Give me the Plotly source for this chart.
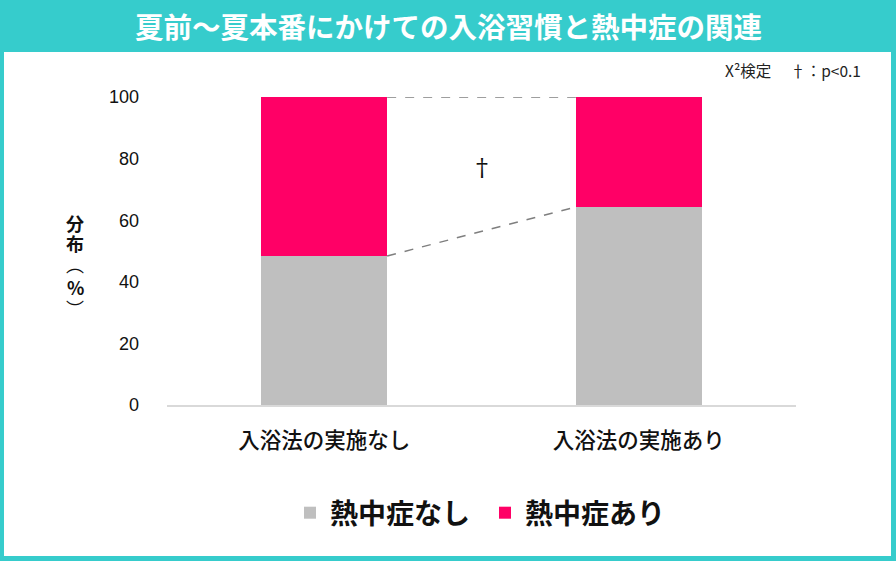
import plotly.graph_objects as go

# --- data -------------------------------------------------------------
categories = ["入浴法の実施なし", "入浴法の実施あり"]
series_names = ["熱中症なし", "熱中症あり"]
no_heatstroke = [48.4, 64.3]          # 熱中症なし (%)
with_heatstroke = [51.6, 35.7]        # 熱中症あり (%)
y_ticks = [0, 20, 40, 60, 80, 100]

title_text = "夏前～夏本番にかけての入浴習慣と熱中症の関連"
note_text = "X²検定　 †：p<0.1"
y_title_chars = ["分", "布", "︵", "%", "︶"]

# --- styling ----------------------------------------------------------
TEAL = "#36CCCC"
GRAY = "#BFBFBF"
PINK = "#FF0066"
JP = "Noto Sans CJK JP"
NUM = "Liberation Sans, Arial"

W, H = 896, 561
PL, PR, PT, PB = 167, 796, 97, 405   # plot area in pixels
BAR_W = 0.4


def px_x(p):
    return (p - PL) / (PR - PL)


def px_y(p):
    return (PB - p) / (PB - PT)


x_pos = list(range(len(categories)))

fig = go.Figure()
fig.add_trace(go.Bar(
    x=x_pos, y=no_heatstroke, name=series_names[0], width=BAR_W,
    marker=dict(color=GRAY, line=dict(width=0)),
))
fig.add_trace(go.Bar(
    x=x_pos, y=with_heatstroke, name=series_names[1], width=BAR_W,
    marker=dict(color=PINK, line=dict(width=0)),
))

shapes = [
    # white card inside the teal frame
    dict(type="rect", xref="paper", yref="paper",
         x0=px_x(4), x1=px_x(891), y0=px_y(556), y1=px_y(52),
         fillcolor="white", line=dict(width=0), layer="below"),
]

# series lines joining the stacked segments of the two bars
tops = [a + b for a, b in zip(no_heatstroke, with_heatstroke)]
for level in (no_heatstroke, tops):
    shapes.append(dict(
        type="line", xref="x", yref="y",
        x0=x_pos[0] + BAR_W / 2, y0=level[0],
        x1=x_pos[1] - BAR_W / 2, y1=level[1],
        line=dict(color="#7F7F7F", width=1.5, dash="dash"),
        layer="above",
    ))

annotations = [
    dict(text=f"<b>{title_text}</b>", xref="paper", yref="paper",
         x=px_x(448), y=px_y(26), xanchor="center", yanchor="middle",
         showarrow=False, font=dict(family=JP, size=28.5, color="white")),
    dict(text=note_text, xref="paper", yref="paper",
         x=px_x(863), y=px_y(70), xanchor="right", yanchor="middle",
         showarrow=False, font=dict(family=JP, size=15.5, color="#222222")),
    dict(text="†", xref="x", yref="y", x=0.5, y=77,
         xanchor="center", yanchor="middle", showarrow=False,
         font=dict(family="DejaVu Serif", size=24, color="#111111")),
]

# vertical axis title, one glyph per line (vertical-form brackets kept regular weight)
y_title_pos = [223, 243, 264, 287, 308]
for ch, py in zip(y_title_chars, y_title_pos):
    annotations.append(dict(
        text=ch if ch in "︵︶" else f"<b>{ch}</b>",
        xref="paper", yref="paper", x=px_x(75), y=px_y(py),
        xanchor="center", yanchor="middle", showarrow=False,
        font=dict(family=JP, size=18, color="#111111"),
    ))

fig.update_layout(
    width=W, height=H, autosize=False,
    margin=dict(l=PL, r=W - PR, t=PT, b=H - PB, pad=0),
    paper_bgcolor=TEAL, plot_bgcolor="rgba(0,0,0,0)",
    barmode="stack", bargap=0,
    shapes=shapes, annotations=annotations,
    showlegend=True,
    legend=dict(
        orientation="h", x=px_x(485), y=px_y(513),
        xanchor="center", yanchor="middle",
        font=dict(family=JP, size=28, color="#111111", weight="bold"),
        bgcolor="rgba(0,0,0,0)", itemclick=False, itemdoubleclick=False,
        traceorder="normal", entrywidth=150, entrywidthmode="pixels",
    ),
    xaxis=dict(
        range=[-0.5, 1.5], tickvals=x_pos, ticktext=categories,
        showline=True, linecolor="#D9D9D9", linewidth=1.5,
        showgrid=False, zeroline=False, ticks="",
        ticklabelstandoff=15,
        tickfont=dict(family=JP, size=21.5, color="#111111", weight=500),
        fixedrange=True,
    ),
    yaxis=dict(
        range=[0, 100], tickvals=y_ticks, ticktext=[str(v) for v in y_ticks],
        showline=False, showgrid=False, zeroline=False, ticks="",
        ticklabelstandoff=27,
        tickfont=dict(family=NUM, size=18, color="#111111"),
        fixedrange=True,
    ),
)

fig.write_html("out.html", config={"displayModeBar": False})
